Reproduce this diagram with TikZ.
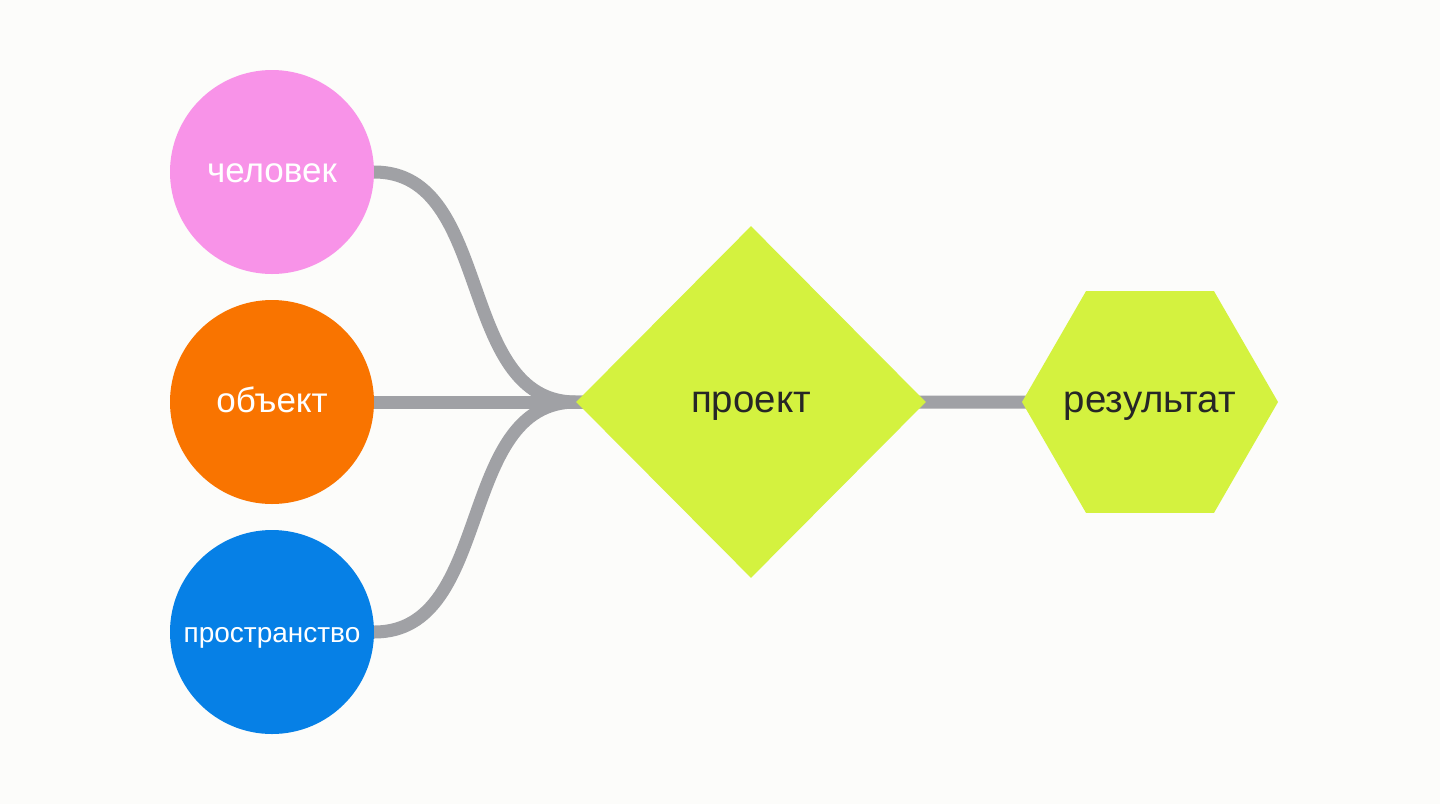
\documentclass[tikz,border=0pt]{standalone}
\usepackage{fontspec}
\setmainfont{Liberation Sans}
\usetikzlibrary{shapes.geometric,backgrounds}
\definecolor{bgc}{HTML}{FCFCFA}
\definecolor{pinkc}{HTML}{F893E8}
\definecolor{orangec}{HTML}{F97400}
\definecolor{bluec}{HTML}{0680E6}
\definecolor{limec}{HTML}{D4F23F}
\definecolor{linec}{HTML}{A0A1A5}
\definecolor{textc}{HTML}{262626}
\tikzset{
  ball/.style={circle, minimum size=102pt, inner sep=0pt, text=white, text height=1.05em, text depth=0pt, font=\fontsize{17.5}{20}\selectfont},
  rhomb/.style={diamond, aspect=1, minimum width=175pt, minimum height=176pt, inner sep=0pt, fill=limec, text=textc, text height=1.05em, text depth=0pt, font=\fontsize{19.2}{23}\selectfont},
  hexa/.style={regular polygon, regular polygon sides=6, minimum size=128pt, inner sep=0pt, fill=limec, text=textc, text height=1.05em, text depth=0pt, font=\fontsize{19.2}{23}\selectfont},
  wire/.style={draw=linec, line width=6.5pt}
}
\begin{document}
\begin{tikzpicture}[x=0.5pt,y=-0.5pt]
\useasboundingbox (0,0) rectangle (1440,804);
\node[ball, fill=pinkc] (chel) at (272,172) {человек};
\node[ball, fill=orangec] (obj) at (272,402) {объект};
\node[ball, fill=bluec, font=\fontsize{14}{17}\selectfont] (prost) at (272,632) {пространство};
\node[rhomb] (proj) at (751,402) {проект};
\node[hexa] (res) at (1150,402) {\makebox[0pt]{результат}};
\begin{scope}[on background layer]
\fill[bgc] (0,0) rectangle (1440,804);
\draw[wire] ([xshift=-6pt]chel.east) -- (chel.east) .. controls +(120,0) and +(-120,0) .. (proj.west) -- ([xshift=6pt]proj.west);
\draw[wire] ([xshift=-6pt]obj.east) -- ([xshift=6pt]proj.west);
\draw[wire] ([xshift=-6pt]prost.east) -- (prost.east) .. controls +(120,0) and +(-120,0) .. (proj.west) -- ([xshift=6pt]proj.west);
\draw[wire] ([xshift=-6pt]proj.east) -- ([xshift=6pt]res.west);
\end{scope}
\end{tikzpicture}
\end{document}
